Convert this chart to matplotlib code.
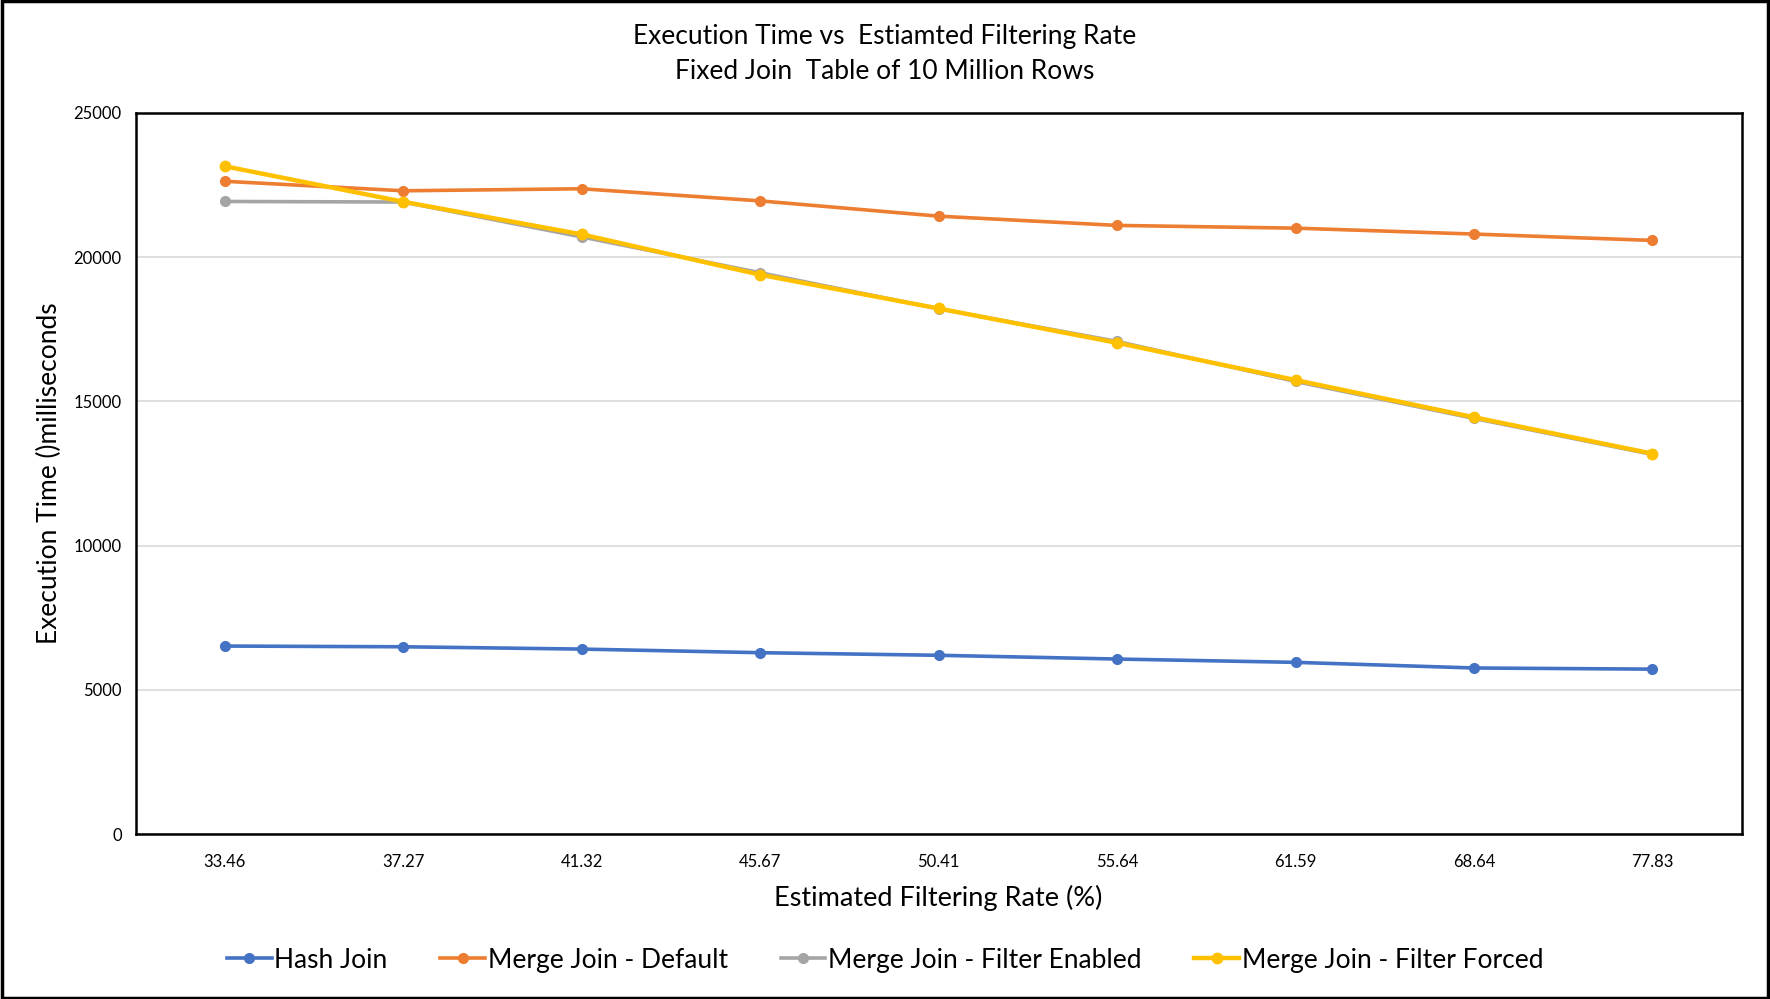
import numpy as np
import matplotlib
matplotlib.use('Agg')
import matplotlib.pyplot as plt
from matplotlib.patches import Rectangle

plt.rcParams['font.family'] = ['Lato', 'DejaVu Sans']

###data###
rates = ['33.46', '37.27', '41.32', '45.67', '50.41', '55.64', '61.59', '68.64', '77.83']
hash_join = [6520, 6495, 6415, 6290, 6200, 6070, 5955, 5760, 5720]
merge_default = [22630, 22300, 22370, 21950, 21420, 21100, 21005, 20800, 20580]
merge_filter_enabled = [21930, 21910, 20700, 19460, 18210, 17080, 15690, 14410, 13160]
merge_filter_forced = [23150, 21920, 20790, 19390, 18220, 17030, 15740, 14450, 13190]
y_ticks = [0, 5000, 10000, 15000, 20000, 25000]

fig = plt.figure(figsize=(17.7, 9.99), dpi=100)
ax = fig.add_axes([0.0766, 0.165, 0.9074, 0.722])

x = np.arange(len(rates)) + 0.5
ax.plot(x, hash_join, '-o', color='#4472C4', lw=2.6, ms=7, label='Hash Join', zorder=3)
ax.plot(x, merge_default, '-o', color='#ED7D31', lw=2.6, ms=7, label='Merge Join - Default', zorder=3)
ax.plot(x, merge_filter_enabled, '-o', color='#A5A5A5', lw=2.6, ms=7, label='Merge Join - Filter Enabled', zorder=3)
ax.plot(x, merge_filter_forced, '-o', color='#FFC000', lw=3.2, ms=7.5, label='Merge Join - Filter Forced', zorder=4)

ax.set_xlim(0, len(rates))
ax.set_ylim(0, 25000)
ax.set_xticks(x)
ax.set_xticklabels(rates, fontsize=12)
ax.set_yticks(y_ticks)
ax.set_yticklabels([str(v) for v in y_ticks], fontsize=12)
ax.tick_params(length=0, pad=14)
ax.tick_params(axis='y', pad=10)
ax.yaxis.grid(True, color='#D9D9D9', lw=1.2)
ax.set_axisbelow(True)
for s in ax.spines.values():
    s.set_color('black')
    s.set_linewidth(1.8)

ax.set_xlabel('Estimated Filtering Rate (%)', fontsize=19.5, labelpad=11)
ax.set_ylabel('Execution Time ()milliseconds', fontsize=19, labelpad=8)
fig.text(0.5, 0.963, 'Execution Time vs  Estiamted Filtering Rate', ha='center', va='center', fontsize=19)
fig.text(0.5, 0.928, 'Fixed Join  Table of 10 Million Rows', ha='center', va='center', fontsize=19)

fig.legend(loc='center', bbox_to_anchor=(0.5, 0.039), ncol=4, frameon=False,
           fontsize=19, handlelength=1.7, handletextpad=0.1, columnspacing=2.0)

###outer border of the chart###
fig.patches.append(Rectangle((0.001, 0.001), 0.998, 0.998, transform=fig.transFigure,
                             fill=False, edgecolor='black', lw=2.5))

fig.savefig('out.png', dpi=100)
